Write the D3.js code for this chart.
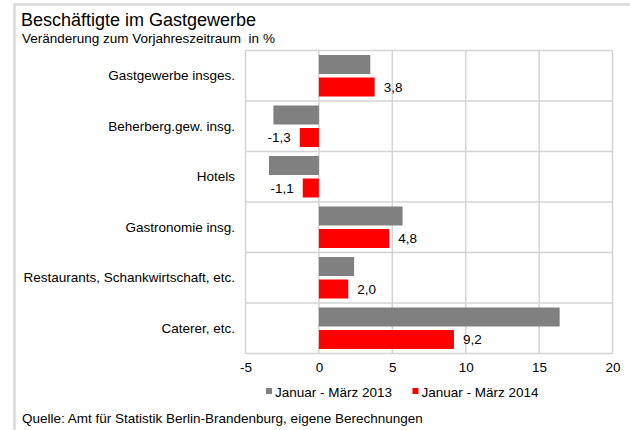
<!DOCTYPE html>
<html lang="de">
<head>
  <meta charset="UTF-8">
  <title>Beschäftigte im Gastgewerbe</title>
  <script src="https://d3js.org/d3.v7.min.js"></script>
  <style>
    body {
      margin: 0;
      padding: 0;
      background: #fff;
      font-family: "Liberation Sans", Arial, sans-serif;
    }
    svg text {
      fill: #000;
      white-space: pre;
    }
  </style>
</head>
<body>
  <div id="chart"></div>

  <script>
    const categories = [
      "Gastgewerbe insges.",
      "Beherberg.gew. insg.",
      "Hotels",
      "Gastronomie insg.",
      "Restaurants, Schankwirtschaft, etc.",
      "Caterer, etc."
    ];
    const seriesNames = ["Januar - März 2013", "Januar - März 2014"];
    const values2013 = [3.5, -3.1, -3.4, 5.7, 2.4, 16.4];
    const values2014 = [3.8, -1.3, -1.1, 4.8, 2.0, 9.2];
    const xTicks = [-5, 0, 5, 10, 15, 20];

    const W = 630, H = 430;
    const plot = { left: 245.5, right: 612.5, top: 50.5, bottom: 353.5 };
    const colors = ["#808080", "#ff0000"];
    const gridColor = "#d4d4d4";

    const svg = d3.select("#chart")
      .append("svg")
      .attr("width", W)
      .attr("height", H);

    // outer frame (runs off the right and bottom edge)
    svg.append("rect")
      .attr("x", 14.5).attr("y", 4.5)
      .attr("width", 640).attr("height", 440)
      .attr("fill", "none")
      .attr("stroke", "#d9d9d9")
      .attr("stroke-width", 2.5);

    svg.append("text")
      .attr("x", 21).attr("y", 26)
      .attr("font-size", 18)
      .text("Beschäftigte im Gastgewerbe");

    svg.append("text")
      .attr("x", 22).attr("y", 43)
      .attr("font-size", 13.5)
      .text("Veränderung zum Vorjahreszeitraum  in %");

    const x = d3.scaleLinear()
      .domain([-5, 20])
      .range([plot.left, plot.right]);

    const y = d3.scaleBand()
      .domain(categories)
      .range([plot.top, plot.bottom]);

    const rows = categories.map((c, i) => ({
      category: c,
      vals: [values2013[i], values2014[i]]
    }));

    const ySub = d3.scaleBand()
      .domain([0, 1])
      .range([4.5, y.bandwidth() - 4.5])
      .paddingInner(0.156);

    // grid
    const grid = svg.append("g");
    grid.selectAll("line.v")
      .data(xTicks)
      .enter().append("line")
      .attr("x1", d => x(d)).attr("x2", d => x(d))
      .attr("y1", plot.top).attr("y2", plot.bottom)
      .attr("stroke", gridColor)
      .attr("stroke-width", 1.5);

    grid.selectAll("line.h")
      .data(categories.concat(["__end"]))
      .enter().append("line")
      .attr("x1", plot.left).attr("x2", plot.right)
      .attr("y1", d => d === "__end" ? plot.bottom : y(d))
      .attr("y2", d => d === "__end" ? plot.bottom : y(d))
      .attr("stroke", gridColor)
      .attr("stroke-width", 1.5);

    // bars
    const groups = svg.selectAll("g.row")
      .data(rows)
      .enter().append("g")
      .attr("class", "row")
      .attr("transform", d => `translate(0,${y(d.category)})`);

    groups.selectAll("rect")
      .data(d => d.vals.map((v, k) => ({ v, k })))
      .enter().append("rect")
      .attr("x", d => x(Math.min(0, d.v)))
      .attr("width", d => Math.abs(x(d.v) - x(0)))
      .attr("y", d => ySub(d.k))
      .attr("height", ySub.bandwidth())
      .attr("fill", d => colors[d.k]);

    // value labels (2014 only)
    const fmt = v => d3.format(".1f")(v).replace(".", ",").replace("−", "-");
    groups.append("text")
      .attr("x", d => d.vals[1] >= 0 ? x(d.vals[1]) + 9 : x(d.vals[1]) - 9)
      .attr("y", ySub(1) + ySub.bandwidth() / 2)
      .attr("dy", "0.35em")
      .attr("text-anchor", d => d.vals[1] >= 0 ? "start" : "end")
      .attr("font-size", 13.5)
      .text(d => fmt(d.vals[1]));

    // category labels
    svg.selectAll("text.cat")
      .data(categories)
      .enter().append("text")
      .attr("class", "cat")
      .attr("x", 235)
      .attr("y", d => y(d) + y.bandwidth() / 2)
      .attr("dy", "0.35em")
      .attr("text-anchor", "end")
      .attr("font-size", 13.5)
      .text(d => d);

    // x axis labels
    const axis = svg.append("g")
      .attr("transform", `translate(0,${plot.bottom})`)
      .call(d3.axisBottom(x).tickValues(xTicks).tickSize(0).tickPadding(9)
        .tickFormat(d => String(d)));
    axis.select(".domain").remove();
    axis.selectAll("text")
      .attr("font-family", "Liberation Sans, Arial, sans-serif")
      .attr("font-size", 13.5)
      .attr("fill", "#000");

    // legend
    const legend = svg.append("g")
      .attr("transform", "translate(266,392)");
    const legendX = [0, 146.5];
    seriesNames.forEach((name, k) => {
      const g = legend.append("g").attr("transform", `translate(${legendX[k]},0)`);
      g.append("rect")
        .attr("x", 0).attr("y", -4)
        .attr("width", 6).attr("height", 6)
        .attr("fill", colors[k]);
      g.append("text")
        .attr("x", 9).attr("y", 0)
        .attr("dy", "0.35em")
        .attr("font-size", 13.5)
        .text(name);
    });

    svg.append("text")
      .attr("x", 22).attr("y", 418)
      .attr("dy", "0.35em")
      .attr("font-size", 13.5)
      .text("Quelle: Amt für Statistik Berlin-Brandenburg, eigene Berechnungen");
  </script>
</body>
</html>
